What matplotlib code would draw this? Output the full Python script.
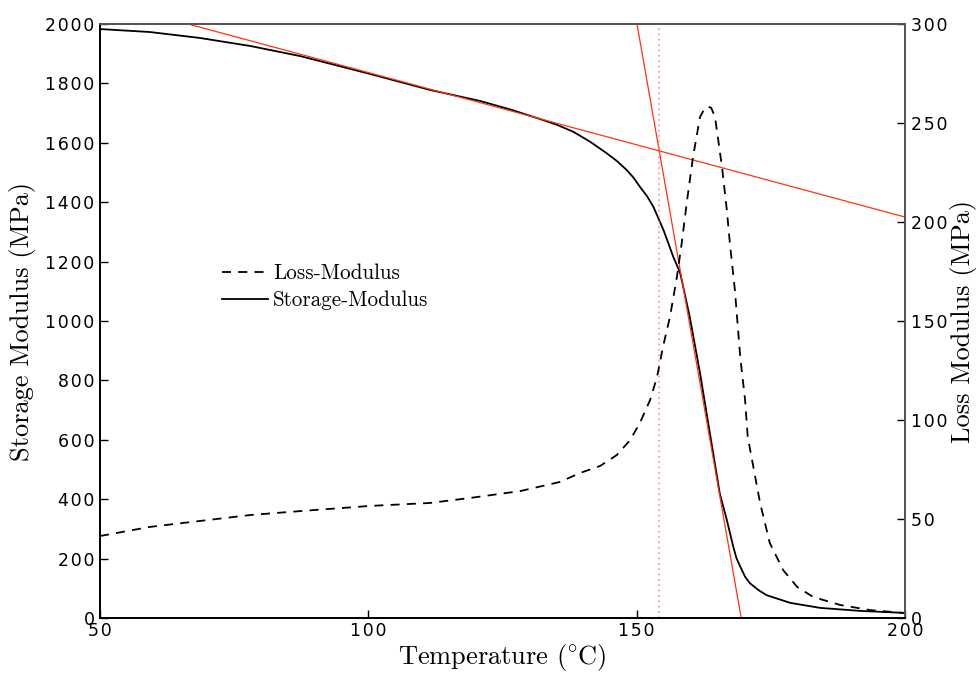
import matplotlib
matplotlib.use("Agg")
import matplotlib.pyplot as plt
from matplotlib.lines import Line2D
from matplotlib.ticker import FuncFormatter

plt.rcParams['mathtext.fontset'] = 'cm'

# ---------------- data ----------------
storage_T = [50.0, 59.3, 68.6, 78.0, 87.3, 100.3, 111.5, 120.8, 126.5, 132.0, 135.1,
             138.2, 141.3, 144.4, 146.3, 148.1, 149.4, 150.6, 151.9, 153.1, 154.0,
             155.0, 155.9, 156.8, 158.1, 159.9, 161.8, 163.7, 165.5, 166.8, 167.4,
             168.0, 168.6, 169.3, 170.2, 171.1, 172.7, 174.2, 178.6, 184.2, 191.6, 200.0]
storage_E = [1983, 1973, 1953, 1926, 1892, 1832, 1778, 1741, 1712, 1680, 1661,
             1637, 1604, 1565, 1539, 1509, 1483, 1452, 1421, 1385, 1348,
             1306, 1262, 1217, 1162, 1013, 825, 616, 418, 330, 285,
             240, 201, 173, 139, 117, 94, 77, 51, 34, 24, 17]

loss_T = [50.0, 59.3, 68.6, 78.0, 87.3, 100.3, 111.5, 118.9, 128.3, 135.7, 139.4,
          143.2, 146.3, 148.8, 150.6, 152.5, 153.8, 154.9, 156.2, 157.5, 158.4,
          159.4, 160.5, 161.8, 162.5, 162.9, 163.3, 163.9, 164.6, 165.9, 166.8, 167.4,
          168.3, 169.3, 170.2, 170.7, 173.0, 174.8, 177.3, 179.9, 182.9, 187.9,
          193.5, 200.0]
loss_E = [41.4, 46.0, 49.0, 52.0, 54.0, 56.6, 58.1, 60.6, 64.1, 68.7, 73.2,
          76.8, 82.3, 89.9, 98.5, 110.1, 121.7, 136.9, 152.0, 172.2, 189.4,
          211.1, 232.8, 253.0, 256.5, 257.8, 258.3, 257.6, 253.0, 227.8, 206.1, 188.4,
          165.7, 131.8, 110.1, 91.4, 58.1, 37.9, 24.2, 15.7, 10.6, 6.6,
          4.0, 2.5]

# tangent lines (onset construction)
glassy_tangent_T = [66.4, 200.0]
glassy_tangent_E = [2000, 1350]
transition_tangent_T = [150.06, 169.48]
transition_tangent_E = [2000, 0]
onset_T = 154.2

xticks = [50, 100, 150, 200]
left_ticks = list(range(0, 2001, 200))
right_ticks = list(range(0, 301, 50))

# ---------------- figure ----------------
fig = plt.figure(figsize=(9.77, 6.73), dpi=100)
ax = fig.add_axes([100/977, 1-618/673, 805/977, 594/673])
ax2 = ax.twinx()

red = '#ff3311'

ax.plot(storage_T, storage_E, color='black', lw=1.3)
ax.plot(glassy_tangent_T, glassy_tangent_E, color=red, lw=0.9)
ax.plot(transition_tangent_T, transition_tangent_E, color=red, lw=0.9)
ax.axvline(onset_T, color='#ff7a7a', lw=1.1, ls=(0, (1, 2.5)))

ax2.plot(loss_T, loss_E, color='black', lw=1.3, dashes=(5, 4))

ax.set_xlim(50, 200)
ax.set_ylim(0, 2000)
ax2.set_ylim(0, 300)

ax.set_xticks(xticks)
ax.set_yticks(left_ticks)
ax2.set_yticks(right_ticks)

spaced = FuncFormatter(lambda v, p: '\u200a'.join(f'{v:g}'))
ax.xaxis.set_major_formatter(spaced)
ax.yaxis.set_major_formatter(spaced)
ax2.yaxis.set_major_formatter(spaced)

for lab in ax.get_xticklabels() + ax.get_yticklabels() + ax2.get_yticklabels():
    lab.set_fontfamily('DejaVu Sans')
    lab.set_fontsize(12.5)

ax.tick_params(axis='both', direction='in', length=6, width=1, pad=4, labelsize=12.5)
ax2.tick_params(axis='y', direction='in', length=6, width=1, pad=4, labelsize=12.5)
ax.tick_params(axis='x', pad=3)

for s in ['left', 'bottom']:
    ax.spines[s].set_color('black')
    ax2.spines[s].set_color('black')
for s in ['top', 'right']:
    ax.spines[s].set_color('#555555')
    ax2.spines[s].set_color('#555555')
for a in (ax, ax2):
    for s in a.spines.values():
        s.set_linewidth(1.3)

label_font = dict(family='cmr10', size=19)
ax.set_xlabel(r'Temperature $(\!^\circ\!\mathrm{C})$', fontdict=label_font)
ax.set_ylabel('Storage Modulus (MPa)', fontdict=label_font)
ax2.set_ylabel('Loss Modulus (MPa)', fontdict=label_font)
ax.xaxis.set_label_coords(0.4994, -0.040)
ax.yaxis.set_label_coords(-0.0795, 0.5)
ax2.yaxis.set_label_coords(1.056, 0.5)

handles = [Line2D([], [], color='black', lw=1.3, dashes=(5, 4)),
           Line2D([], [], color='black', lw=1.3)]
leg = ax2.legend(handles, ['Loss-Modulus', 'Storage-Modulus'],
                 loc='center left', bbox_to_anchor=(0.128, 0.557),
                 frameon=False, prop=dict(family='cmr10', size=15.2),
                 handlelength=2.18, handletextpad=0.24, labelspacing=0.35)

fig.savefig('out.png', dpi=100)
